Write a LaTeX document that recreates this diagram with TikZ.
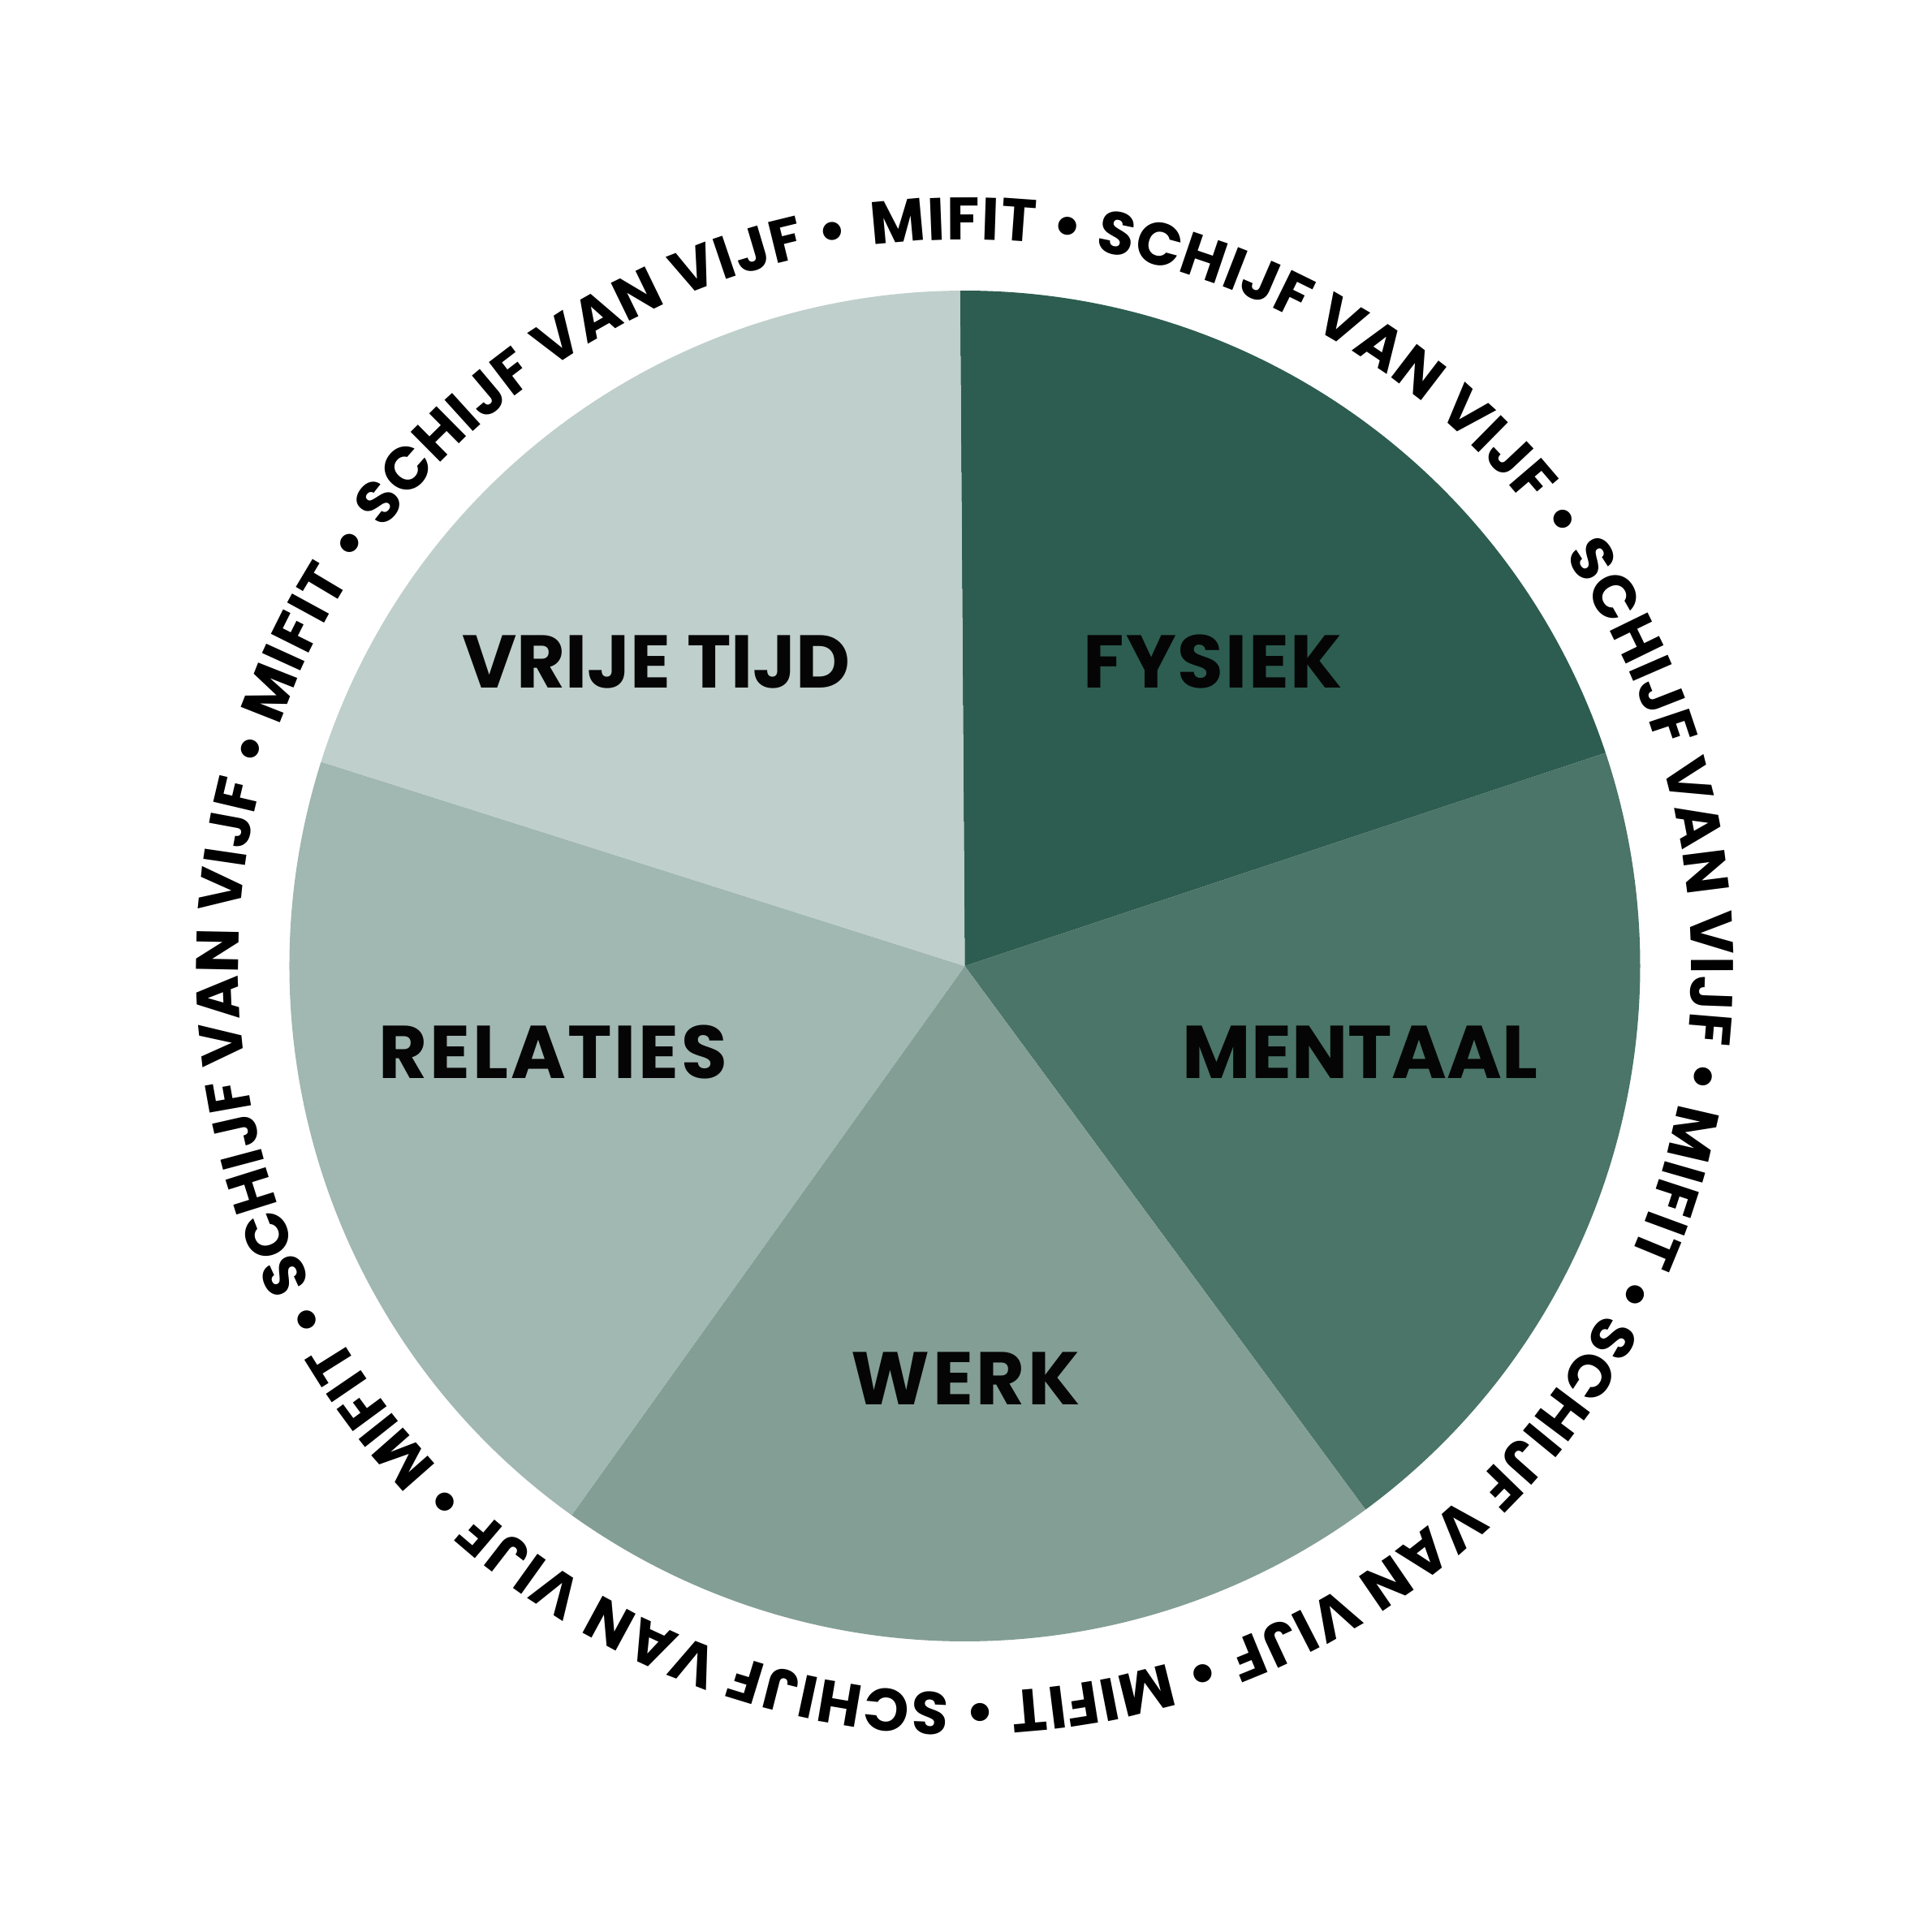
\documentclass[tikz,border=0pt]{standalone}
\usepackage{fontspec}
\setmainfont{Poppins}
\newfontfamily\ringfont{Poppins}
\usetikzlibrary{decorations.text}
\definecolor{cFys}{HTML}{2C5D50}
\definecolor{cMen}{HTML}{4A7568}
\definecolor{cWer}{HTML}{839E95}
\definecolor{cRel}{HTML}{A1B7B1}
\definecolor{cVri}{HTML}{BFCFCB}
\definecolor{ink}{HTML}{050505}
\tikzset{
  lab/.style={anchor=base, inner sep=0pt, text=ink, font=\bfseries\fontsize{26.2}{26.2}\selectfont},
}
\begin{document}
\begin{tikzpicture}
\useasboundingbox[fill=white] (-11.885,-11.90) rectangle (11.915,11.90);
\def\R{8.32}
\fill[cFys] (0,0) -- (90.4:\R) arc[start angle=90.4, end angle=18.4, radius=\R] -- cycle;
\fill[cMen] (0,0) -- (18.4:\R) arc[start angle=18.4, end angle=-53.6, radius=\R] -- cycle;
\fill[cWer] (0,0) -- (-53.6:\R) arc[start angle=-53.6, end angle=-125.6, radius=\R] -- cycle;
\fill[cRel] (0,0) -- (-125.6:\R) arc[start angle=-125.6, end angle=-197.6, radius=\R] -- cycle;
\fill[cVri] (0,0) -- (162.4:\R) arc[start angle=162.4, end angle=90.4, radius=\R] -- cycle;
\node[lab] (fysiek) at (3.06,3.43) {\addfontfeature{LetterSpace=2}FYSIEK};
\node[lab] (vrije) at (-3.80,3.43) {VRIJE TIJD};
\node[lab] (relaties) at (-5.07,-1.38) {\addfontfeature{LetterSpace=3}RELATIES};
\node[lab] (mentaal) at (4.87,-1.38) {MENTAAL};
\node[lab] (werk) at (0.01,-5.40) {\addfontfeature{LetterSpace=4}WERK};
\path[decorate, decoration={text along path,
  text={|\ringfont\bfseries\fontsize{21}{21}\selectfont|MIFIT • SCHIJF VAN VIJF • SCHIJF VAN VIJF • MIFIT • SCHIJF VAN VIJF • MIFIT • SCHIJF VAN VIJF • MIFIT • SCHIJF VAN VIJF • MIFIT • SCHIJF VAN VIJF •},
  text align=fit to path}]
  (97.3:8.95) arc[start angle=97.3, end angle=-260.9, radius=8.95];
\end{tikzpicture}
\end{document}
